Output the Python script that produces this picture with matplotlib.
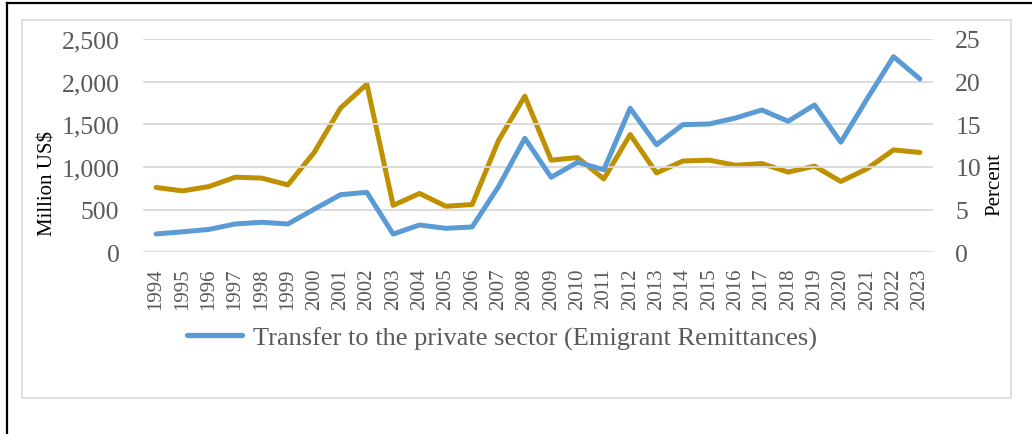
import matplotlib
matplotlib.use("Agg")
import matplotlib.pyplot as plt
from matplotlib.lines import Line2D
from matplotlib.patches import Rectangle
from matplotlib.ticker import FuncFormatter

years = list(range(1994, 2024))

# emigrant remittances, million US$ (left axis)
remit = [215, 240, 268, 332, 352, 332, 505, 675, 703, 214, 320, 281, 297, 770,
         1336, 879, 1055, 968, 1688, 1261, 1496, 1504, 1574, 1668, 1536, 1727,
         1290, 1800, 2293, 2032]

# share, percent (right axis)
pct = [7.6, 7.2, 7.7, 8.8, 8.7, 7.9, 11.7, 16.9, 19.7, 5.5, 6.9, 5.4, 5.6, 13.1,
       18.3, 10.8, 11.1, 8.6, 13.8, 9.3, 10.7, 10.8, 10.2, 10.4, 9.4, 10.1,
       8.3, 9.8, 12.0, 11.7]

blue = "#5B9BD5"
gold = "#BF9000"
grey_txt = "#595959"
grid_c = "#D9D9D9"

plt.rcParams["font.family"] = ["Liberation Serif", "DejaVu Serif"]

W, H = 1032, 435
fig = plt.figure(figsize=(W / 100, H / 100), dpi=100)

# frames
fig.add_artist(Rectangle((22 / W, 1 - 399 / H), (1011 - 22) / W, (399 - 21) / H,
                         transform=fig.transFigure, fill=False, ec=grid_c, lw=1.2))
fig.add_artist(Line2D([7 / W, 1.0], [1 - 4 / H, 1 - 4 / H], transform=fig.transFigure,
                      color="black", lw=1.6))
fig.add_artist(Line2D([7 / W, 7 / W], [1 - 4 / H, 0], transform=fig.transFigure,
                      color="black", lw=1.6))

ax = fig.add_axes([143 / W, 1 - 253.3 / H, (933 - 143) / W, (253.3 - 40) / H])
ax2 = ax.twinx()

x = list(range(len(years)))
ax.plot(x, remit, color=blue, lw=3.6, solid_capstyle="round", solid_joinstyle="round",
        label="Transfer to the private sector (Emigrant Remittances)", zorder=3)
ax2.plot(x, pct, color=gold, lw=3.6, solid_capstyle="round", solid_joinstyle="round", zorder=3)

ax.set_xlim(-0.5, len(years) - 0.5)
ax.set_ylim(0, 2500)
ax2.set_ylim(0, 25)
ax.set_yticks(range(0, 2501, 500))
ax2.set_yticks(range(0, 26, 5))
ax.yaxis.set_major_formatter(FuncFormatter(lambda v, p: f"{int(v):,}"))
ax.set_xticks(x)
ax.set_xticklabels([str(y) for y in years], rotation=90)

ax.grid(axis="y", color=grid_c, lw=1.3)
ax.set_axisbelow(True)
for a in (ax, ax2):
    for s in a.spines.values():
        s.set_visible(False)
    a.tick_params(length=0)
ax.tick_params(axis="y", labelsize=18.5, labelcolor=grey_txt, pad=17)
ax2.tick_params(axis="y", labelsize=18.5, labelcolor=grey_txt, pad=16)
ax.tick_params(axis="x", labelsize=15, labelcolor=grey_txt, pad=11)
ax.set_zorder(ax2.get_zorder() + 1)
ax.patch.set_visible(False)

fig.text(48 / W, 1 - 184 / H, "Million US$", rotation=90, ha="center", va="center",
         fontsize=15, color="black")
fig.text(995 / W, 1 - 185 / H, "Percent", rotation=90, ha="center", va="center",
         fontsize=15, color="black")

fig.legend(loc="center", bbox_to_anchor=(502 / W, 1 - 339 / H), frameon=False,
           fontsize=19, handlelength=2.1, handletextpad=0.42,
           labelcolor=grey_txt)
for ln in fig.legends[0].get_lines():
    ln.set_linewidth(3.8)

fig.savefig("out.png", dpi=100)
